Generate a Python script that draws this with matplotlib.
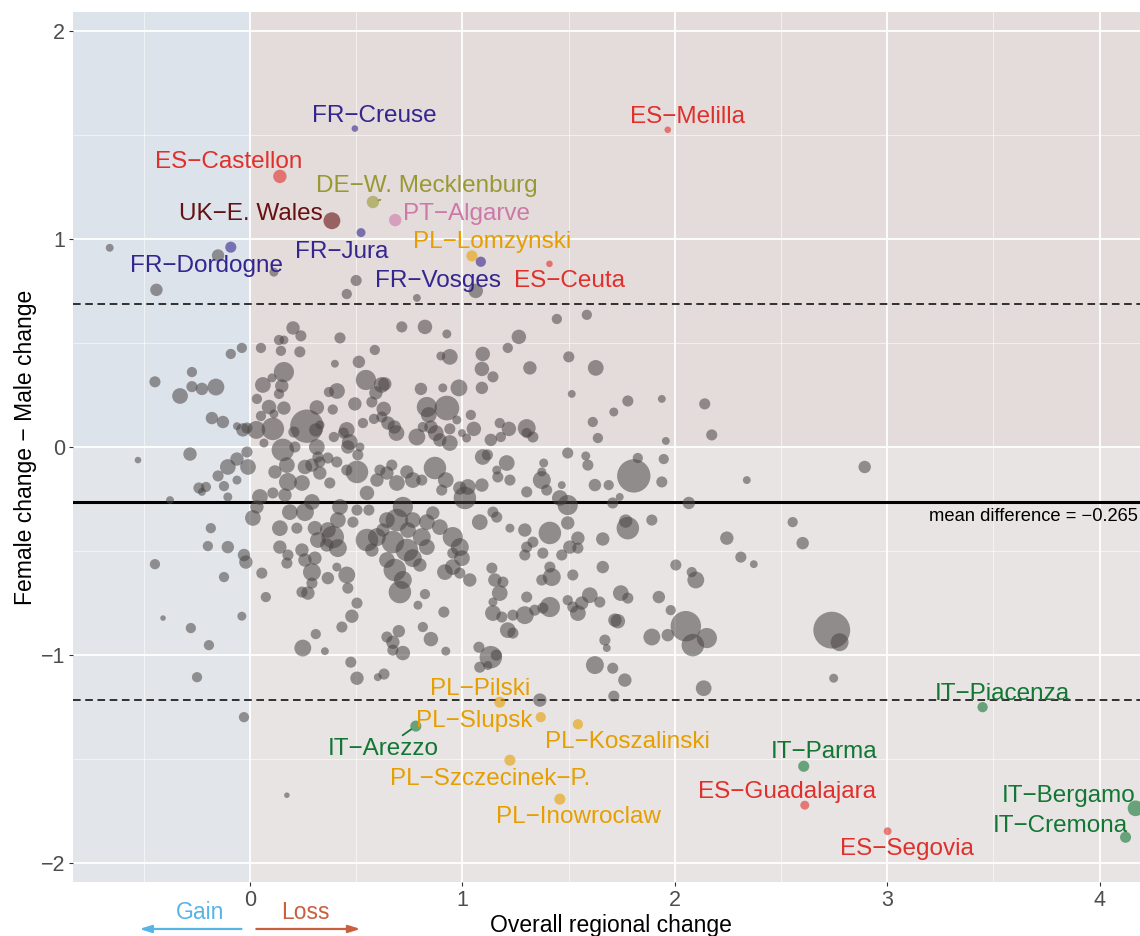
import matplotlib
matplotlib.use("Agg")

import matplotlib.pyplot as plt
from matplotlib.patches import Rectangle
from matplotlib.ticker import MultipleLocator


plt.rcParams["font.family"] = ["Liberation Sans", "DejaVu Sans"]

M = "\u2212"


# Regions without a label: overall change, female - male change, population weight
region_x = [
    -0.66, -0.44, -0.15, 0.113, 0.50, 0.456, 1.063, 0.786, 1.445, 1.586,
    0.203, 0.24, 0.137, 0.16, 0.052, 0.146, 0.235, 0.424, 0.715, 0.824,
    0.927, 0.588, 0.513, 0.40, 0.16, 0.104, 0.061, 0.15, 0.137, 0.033,
    0.09, 0.16, 0.052, 0.113, 0.03, 0.108, 0.268, 0.315, 0.39, 0.31,
    0.207, 0.33, 0.372, 0.41, 0.494, 0.546, 0.593, 0.62, 0.635, 0.574,
    0.63, 0.532, 0.584, 0.621, 0.65, 0.68, 0.69, 0.456, 0.44, 0.395,
    0.47, 0.805, 0.908, 0.984, 0.899, 0.941, 0.833, 0.927, 0.842, 0.974,
    0.786, 0.814, 0.852, 0.875, 0.941, 0.941, 0.894, 1.096, 1.214, 1.266,
    1.092, 1.144, 1.092, 1.318, 1.501, 1.628, 1.515, 1.713, 1.04, 1.054,
    1.02, 0.998, 1.134, 1.176, 1.219, 1.303, 1.303, 1.332, 1.181, 1.614,
    1.638, -0.038, -0.033, -0.09, -0.273, -0.447, -0.273, -0.226, -0.16, -0.329,
    -0.179, -0.127, -0.061, -0.014, -0.282, -0.527, -0.014, -0.061, -0.104, -0.009,
    -0.15, -0.061, -0.24, -0.207, -0.226, -0.122, -0.104, -0.376, 0.014, -0.184,
    -0.198, -0.104, -0.028, -0.019, -0.447, -0.122, 0.075, -0.038, -0.409, 0.066,
    0.155, 0.212, 0.315, 0.320, 0.292, 0.367, 0.409, 0.461, 0.508, 0.518,
    0.504, 0.456, 0.118, 0.174, 0.259, 0.329, 0.329, 0.376, 0.179, 0.245,
    0.047, 0.108, 0.165, 0.033, 0.188, 0.259, 0.292, 0.141, 0.221, 0.306,
    0.367, 0.32, 0.39, 0.414, 0.362, 0.414, 0.424, 0.485, 0.504, 0.56,
    0.551, 0.598, 0.645, 0.668, 0.612, 0.692, 0.739, 0.767, 0.809, 0.871,
    0.922, 0.903, 0.988, 1.026, 1.012, 1.092, 1.096, 1.118, 1.209, 1.167,
    1.224, 1.162, 1.303, 1.374, 1.397, 1.383, 1.374, 1.468, 1.459, 1.496,
    1.624, 1.689, 1.496, 1.581, 1.591, 1.708, 0.551, 0.598, 0.574, 0.645,
    0.626, 0.692, 0.72, 0.767, 0.744, 0.833, 0.861, 0.894, 0.809, 0.833,
    0.673, 0.739, 0.767, 0.800, 0.645, 0.682, 0.72, 0.706, 0.955, 0.988,
    0.955, 0.998, 0.955, 0.918, 0.988, 1.035, 1.082, 1.144, 1.162, 1.224,
    1.294, 1.332, 1.303, 1.294, 1.412, 1.379, 1.468, 1.506, 1.496, 1.544,
    1.544, 1.661, 1.412, 1.421, 1.374, 1.52, 1.661, 1.139, 1.153, 1.191,
    1.176, 1.144, 1.303, 1.412, 1.294, 1.238, 1.341, 1.379, 1.144, 1.186,
    1.214, 1.238, 1.496, 1.52, 1.544, 1.60, 1.562, 1.647, 1.718, 1.671,
    1.680, 1.624, 1.708, 0.141, 0.179, 0.245, 0.174, 0.259, 0.306, 0.292,
    0.056, 0.367, 0.456, 0.409, 0.461, 0.292, 0.245, 0.273, 0.504, 0.48,
    0.433, 0.31, 0.249, 0.353, 0.475, 0.504, 0.602, 0.631, 0.645, 0.673,
    0.701, 0.72, 0.673, 0.791, 0.824, 0.814, 0.852, 0.913, 0.922, 1.078,
    1.134, 1.16, 1.082, 1.12, 1.365, 1.779, 1.939, 2.141, 2.174, 1.958,
    1.826, 1.948, 1.807, 1.939, 1.741, 2.339, 2.066, 1.769, 1.779, 1.892,
    2.245, 2.311, 2.372, 2.005, 2.08, 2.099, 1.925, 1.746, 1.779, 1.981,
    1.732, 2.052, 2.151, 2.085, 1.967, 1.892, 1.765, 1.713, 2.136, 2.739,
    2.776, 2.748, 2.894, 2.555, 2.602, -0.278, -0.193, -0.249, -0.028, 0.174,
]

region_y = [
    0.957, 0.755, 0.92, 0.84, 0.80, 0.735, 0.75, 0.716, 0.615, 0.635,
    0.572, 0.534, 0.514, 0.514, 0.476, 0.462, 0.457, 0.524, 0.577, 0.577,
    0.543, 0.466, 0.409, 0.40, 0.36, 0.332, 0.298, 0.293, 0.255, 0.231,
    0.192, 0.187, 0.149, 0.159, 0.082, 0.087, 0.10, 0.19, 0.18, 0.082,
    0.072, 0.106, 0.264, 0.269, 0.207, 0.322, 0.26, 0.298, 0.303, 0.216,
    0.183, 0.115, 0.135, 0.144, 0.115, 0.096, 0.067, 0.082, 0.067, 0.048,
    0.024, 0.279, 0.284, 0.284, 0.437, 0.433, 0.192, 0.187, 0.154, 0.13,
    0.048, 0.096, 0.096, 0.067, 0.087, 0.019, 0.034, 0.447, 0.476, 0.529,
    0.375, 0.337, 0.284, 0.38, 0.433, 0.38, 0.255, 0.168, 0.154, 0.087,
    0.043, 0.067, 0.034, 0.115, 0.087, 0.091, 0.067, 0.048, 0.048, 0.12,
    0.043, 0.476, 0.082, 0.447, 0.36, 0.313, 0.29, 0.279, 0.288, 0.245,
    0.139, 0.12, 0.10, 0.091, -0.034, -0.063, -0.024, -0.058, -0.096, -0.096,
    -0.139, -0.159, -0.197, -0.192, -0.216, -0.188, -0.24, -0.255, -0.341, -0.39,
    -0.476, -0.481, -0.519, -0.553, -0.563, -0.625, -0.721, -0.813, -0.822, 0.019,
    -0.014, 0.0, 0.0, -0.048, -0.087, -0.053, -0.072, 0.0, -0.038, 0.0,
    -0.12, -0.111, -0.12, -0.087, -0.096, -0.125, -0.072, -0.173, -0.168, -0.173,
    -0.24, -0.221, -0.231, -0.288, -0.313, -0.313, -0.264, -0.39, -0.39, -0.39,
    -0.399, -0.447, -0.433, -0.486, -0.471, -0.351, -0.288, -0.361, -0.303, -0.303,
    -0.221, -0.159, -0.125, -0.087, -0.111, -0.173, -0.12, -0.159, -0.159, -0.101,
    -0.159, -0.207, -0.197, -0.192, -0.245, -0.183, -0.048, -0.038, -0.077, -0.144,
    -0.159, -0.111, -0.216, -0.159, -0.207, -0.077, -0.12, -0.183, -0.245, -0.279,
    -0.183, -0.183, -0.029, -0.043, -0.087, -0.269, -0.447, -0.433, -0.495, -0.351,
    -0.399, -0.351, -0.288, -0.351, -0.399, -0.361, -0.317, -0.385, -0.433, -0.481,
    -0.457, -0.495, -0.534, -0.567, -0.543, -0.591, -0.639, -0.697, -0.433, -0.481,
    -0.510, -0.534, -0.577, -0.601, -0.606, -0.639, -0.361, -0.313, -0.337, -0.39,
    -0.399, -0.457, -0.481, -0.519, -0.413, -0.51, -0.519, -0.481, -0.365, -0.438,
    -0.486, -0.442, -0.577, -0.625, -0.639, -0.615, -0.577, -0.582, -0.639, -0.649,
    -0.702, -0.745, -0.721, -0.769, -0.808, -0.808, -0.784, -0.774, -0.798, -0.817,
    -0.88, -0.894, -0.736, -0.769, -0.798, -0.712, -0.75, -0.745, -0.832, -0.928,
    -0.966, -1.048, -1.063, -0.481, -0.519, -0.495, -0.558, -0.543, -0.534, -0.601,
    -0.606, -0.63, -0.615, -0.577, -0.678, -0.654, -0.697, -0.702, -0.75, -0.813,
    -0.865, -0.899, -0.966, -0.981, -1.034, -1.111, -1.106, -1.091, -0.913, -0.938,
    -0.885, -0.99, -0.976, -0.76, -0.707, -0.865, -0.923, -0.793, -0.981, -0.962,
    -1.01, -1.0, -1.058, -1.05, -1.216, 0.221, 0.231, 0.207, 0.058, 0.029,
    -0.053, -0.058, -0.139, -0.168, -0.24, -0.159, -0.269, -0.356, -0.39, -0.351,
    -0.438, -0.529, -0.563, -0.567, -0.601, -0.639, -0.721, -0.702, -0.726, -0.784,
    -0.837, -0.861, -0.918, -0.952, -0.904, -0.913, -1.12, -1.197, -1.159, -0.88,
    -0.938, -1.111, -0.096, -0.361, -0.462, -0.87, -0.952, -1.106, -1.298, -1.673,
]

region_pop = [
    1, 2.5, 2.5, 1.3, 2, 1.7, 3.4, 1, 1.7, 1.7,
    2.9, 2, 1.7, 1.3, 1.7, 1.7, 2, 2, 2, 3.4,
    1.3, 1.7, 2.5, 1, 6.6, 1.3, 4, 2.9, 1.7, 1.7,
    3.4, 2.9, 1.7, 1.3, 5.2, 8.2, 18, 3.4, 1.7, 2.9,
    2, 1.3, 1.7, 4, 2.9, 6.6, 2.9, 4, 2.9, 2,
    3.4, 1.7, 1.7, 2, 2.9, 2.9, 4, 4, 2, 1.7,
    4, 2.5, 1.3, 4.6, 1.3, 4, 6.6, 9.9, 4, 1.3,
    4.6, 1.7, 2.9, 4, 2, 4, 2.9, 3.4, 1.7, 3.4,
    3.4, 2, 2.5, 2.9, 2, 4, 1, 1.3, 1.7, 3.4,
    1.3, 1, 2.5, 1.7, 3.4, 5.2, 1.7, 2, 1.7, 1.7,
    1.7, 1.7, 2.9, 1.7, 1.7, 2, 2, 2.5, 4.6, 4,
    2.5, 2.5, 1, 2, 2.9, 0.7, 2, 2.9, 4, 4,
    2, 1.3, 2, 1.7, 1, 1.7, 1.3, 1, 4, 1.7,
    1.7, 2.5, 2.5, 2.9, 1.7, 1.7, 1.7, 1.3, 0.5, 1.3,
    8.2, 2, 4, 2, 2.9, 2, 2, 2.9, 2, 1.3,
    8.2, 2, 2.9, 4, 3.4, 2.9, 2, 2, 5.2, 4,
    4, 2, 2.9, 2.9, 4, 5.2, 4, 4, 2, 3.4,
    4, 4, 8.2, 5.2, 2.9, 4, 4, 2, 2, 2,
    3.4, 2.9, 2.9, 2, 2, 4, 2.9, 4, 2, 8.2,
    4, 2, 2.9, 4, 8.2, 2.9, 4, 2, 4, 2,
    2, 1.3, 2, 5.2, 2, 1.3, 1.3, 1, 4, 6.6,
    2.5, 1.7, 2, 1.3, 2, 2, 8.2, 5.2, 2.9, 4,
    2.9, 8.2, 6.6, 4, 4, 4, 2.9, 4, 5.2, 4,
    8.2, 8.2, 5.2, 2.9, 4, 8.2, 5.2, 8.2, 6.6, 5.2,
    2, 4, 4, 4, 2, 2.9, 4, 2, 2, 1.3,
    2.9, 2, 2, 2, 8.2, 2, 2, 2.9, 2.9, 2.9,
    2, 2.9, 2, 5.2, 2, 2, 2.5, 2, 2.9, 2,
    4, 1.3, 2, 6.6, 5.2, 2, 2, 2, 4, 2,
    4, 2, 1.7, 2, 4, 4, 2.9, 2, 2.9, 2,
    1, 5.2, 2, 2.9, 2, 2.9, 2, 2.9, 2.9, 5.2,
    2, 2.5, 4.6, 1.3, 2, 2, 2, 2.9, 2, 2.9,
    2, 1.7, 4.6, 1, 2, 2.9, 1, 2, 2, 2.9,
    2.5, 3.4, 2, 1.3, 1.7, 1.7, 3.4, 2, 1.3, 2,
    8.2, 2, 2, 1.3, 2.9, 2, 1, 2, 2, 1,
    1.7, 1.7, 18, 2, 1, 1, 2.5, 2.9, 8.2, 2,
    2.9, 2, 1, 2, 1.7, 4.6, 2.5, 4, 2, 1.7,
    3.4, 15, 6.6, 8.2, 2.5, 4.6, 2.9, 2, 4, 22,
    5.2, 1.3, 2.5, 1.7, 2.5, 1.7, 1.7, 1.7, 1.7, 0.5,
]


# Highlighted regions
label_names = [
    f"FR{M}Creuse", f"ES{M}Melilla", f"ES{M}Castellon", f"DE{M}W. Mecklenburg",
    f"UK{M}E. Wales", f"PT{M}Algarve", f"PL{M}Lomzynski", f"FR{M}Jura",
    f"FR{M}Dordogne", f"FR{M}Vosges", f"ES{M}Ceuta",
    f"PL{M}Pilski", f"PL{M}Slupsk", f"IT{M}Arezzo", f"PL{M}Koszalinski",
    f"PL{M}Szczecinek{M}P.", f"PL{M}Inowroclaw", f"IT{M}Parma",
    f"ES{M}Guadalajara", f"ES{M}Segovia", f"IT{M}Piacenza",
    f"IT{M}Bergamo", f"IT{M}Cremona",
]

label_country = [
    "FR", "ES", "ES", "DE", "UK", "PT", "PL", "FR", "FR", "FR", "ES",
    "PL", "PL", "IT", "PL", "PL", "PL", "IT", "ES", "ES", "IT", "IT", "IT",
]

label_x = [
    0.494, 1.967, 0.141, 0.579, 0.386, 0.684, 1.045, 0.523, -0.09, 1.087, 1.41,
    1.176, 1.369, 0.781, 1.544, 1.224, 1.459, 2.607, 2.612, 3.002, 3.449,
    4.169, 4.122,
]

label_y = [
    1.53, 1.524, 1.30, 1.177, 1.087, 1.09, 0.918, 1.03, 0.96, 0.89, 0.88,
    -1.226, -1.298, -1.341, -1.332, -1.505, -1.692, -1.534, -1.721, -1.846,
    -1.25, -1.736, -1.875,
]

label_pop = [
    0.7, 0.7, 2.9, 2.5, 4.6, 2.5, 2, 1.3, 2, 1.7, 0.7,
    2, 1.7, 2, 1.7, 2, 2, 2, 1.3, 1, 1.7, 4, 2,
]

mean_difference = -0.265
agreement_limits = [0.688, -1.218]


COUNTRY_COLORS = {
    "FR": "#34258f",
    "ES": "#e0302b",
    "UK": "#661111",
    "DE": "#999933",
    "PT": "#cc79a7",
    "PL": "#e69f00",
    "IT": "#117733",
}

# text offset from its point in pixels (dx, dy to baseline)
LABEL_OFFSETS = [
    (19, 7), (20, 7), (-51, 8), (54, 10), (-81, 1), (71, 0), (20, 8),
    (-19, -25), (-24, -25), (-43, -25), (20, -23),
    (-20, 7), (-66, -10), (-33, -29), (50, -24), (-20, -25), (19, -24),
    (20, 8), (-18, 7), (19, -24), (20, 7), (-67, 6), (-65, 5),
]

LEADER_LINES = [f"DE{M}W. Mecklenburg", f"IT{M}Arezzo"]

LABEL_SIZE = 17.5
TITLE_SIZE = 16.5


def marker_area(pop):

    return [32 * p for p in pop]


def draw_panel_background(ax):

    quadrants = [
        ((-5, 0), 5, "#dce3ea"),
        ((-5, -5), 5, "#e2e6ea"),
        ((0, 0), 10, "#e4dbdb"),
        ((0, -5), 10, "#e8e4e4"),
    ]

    for corner, width, color in quadrants:
        ax.add_patch(
            Rectangle(
                corner,
                width,
                5,
                facecolor=color,
                edgecolor="none",
                zorder=0.1
            )
        )


def plot_gender_gap():

    fig = plt.figure(
        figsize=(11.4, 9.36),
        dpi=100
    )

    ax = fig.add_axes([0.064, 0.0577, 0.936, 0.9295])

    ax.set_xlim(-0.833, 4.19)
    ax.set_ylim(-2.09, 2.09)

    draw_panel_background(ax)

    ax.set_axisbelow(True)
    ax.xaxis.set_minor_locator(MultipleLocator(0.5))
    ax.yaxis.set_minor_locator(MultipleLocator(0.5))
    ax.set_xticks([0, 1, 2, 3, 4])
    ax.set_yticks([-2, -1, 0, 1, 2])

    ax.grid(which="major", color="white", linewidth=1.3, zorder=0.5)
    ax.grid(which="minor", color="white", linewidth=0.5, alpha=0.8, zorder=0.5)

    for spine in ax.spines.values():
        spine.set_visible(False)

    ax.tick_params(
        which="major",
        length=3,
        width=0.8,
        color="#333333",
        labelcolor="#4d4d4d",
        labelsize=15.5,
        pad=2.5
    )
    ax.tick_params(which="minor", length=0)

    # limits of agreement and mean
    for limit in agreement_limits:
        ax.axhline(
            limit,
            color="black",
            linewidth=1.1,
            linestyle=(0, (5, 3)),
            zorder=2
        )

    ax.axhline(
        mean_difference,
        color="black",
        linewidth=2.2,
        zorder=2
    )

    ax.text(
        0.998,
        -0.356,
        f"mean difference = {M}{abs(mean_difference):.3f}",
        transform=ax.get_yaxis_transform(),
        ha="right",
        va="baseline",
        fontsize=13.2,
        color="black",
        zorder=5
    )

    ax.scatter(
        region_x,
        region_y,
        s=marker_area(region_pop),
        color="#4a4444",
        alpha=0.55,
        linewidths=0,
        zorder=3
    )

    label_colors = [COUNTRY_COLORS[c] for c in label_country]

    ax.scatter(
        label_x,
        label_y,
        s=marker_area(label_pop),
        color=label_colors,
        alpha=0.6,
        linewidths=0,
        zorder=4
    )

    for name, x, y, color, offset in zip(
            label_names, label_x, label_y, label_colors, LABEL_OFFSETS):

        arrow = None
        if name in LEADER_LINES:
            arrow = dict(
                arrowstyle="-",
                color=color,
                linewidth=1.3,
                shrinkA=0,
                shrinkB=4
            )

        ax.annotate(
            name,
            xy=(x, y),
            xytext=offset,
            textcoords="offset pixels",
            ha="center",
            va="baseline",
            fontsize=LABEL_SIZE,
            color=color,
            arrowprops=arrow,
            zorder=6
        )

    # gain / loss arrows under the x axis
    axis_trans = ax.get_xaxis_transform()

    ax.annotate(
        "",
        xy=(-0.52, -0.054),
        xytext=(-0.04, -0.054),
        xycoords=axis_trans,
        arrowprops=dict(
            arrowstyle="-|>,head_length=0.7,head_width=0.22",
            color="#56b4e9",
            linewidth=1.6,
            shrinkA=0,
            shrinkB=0
        ),
        annotation_clip=False
    )

    ax.annotate(
        "",
        xy=(0.52, -0.054),
        xytext=(0.03, -0.054),
        xycoords=axis_trans,
        arrowprops=dict(
            arrowstyle="-|>,head_length=0.7,head_width=0.22",
            color="#c8603f",
            linewidth=1.6,
            shrinkA=0,
            shrinkB=0
        ),
        annotation_clip=False
    )

    ax.text(
        -0.235,
        -0.035,
        "Gain",
        transform=axis_trans,
        ha="center",
        va="center",
        fontsize=TITLE_SIZE,
        color="#56b4e9"
    )

    ax.text(
        0.26,
        -0.035,
        "Loss",
        transform=axis_trans,
        ha="center",
        va="center",
        fontsize=TITLE_SIZE,
        color="#c8603f"
    )

    fig.text(
        0.536,
        0.0045,
        "Overall regional change",
        ha="center",
        va="baseline",
        fontsize=TITLE_SIZE,
        color="black"
    )

    fig.text(
        0.022,
        0.522,
        f"Female change {M} Male change",
        rotation=90,
        ha="center",
        va="center",
        fontsize=TITLE_SIZE,
        color="black"
    )

    fig.savefig("out.png", dpi=100)

    plt.close(fig)


plot_gender_gap()
